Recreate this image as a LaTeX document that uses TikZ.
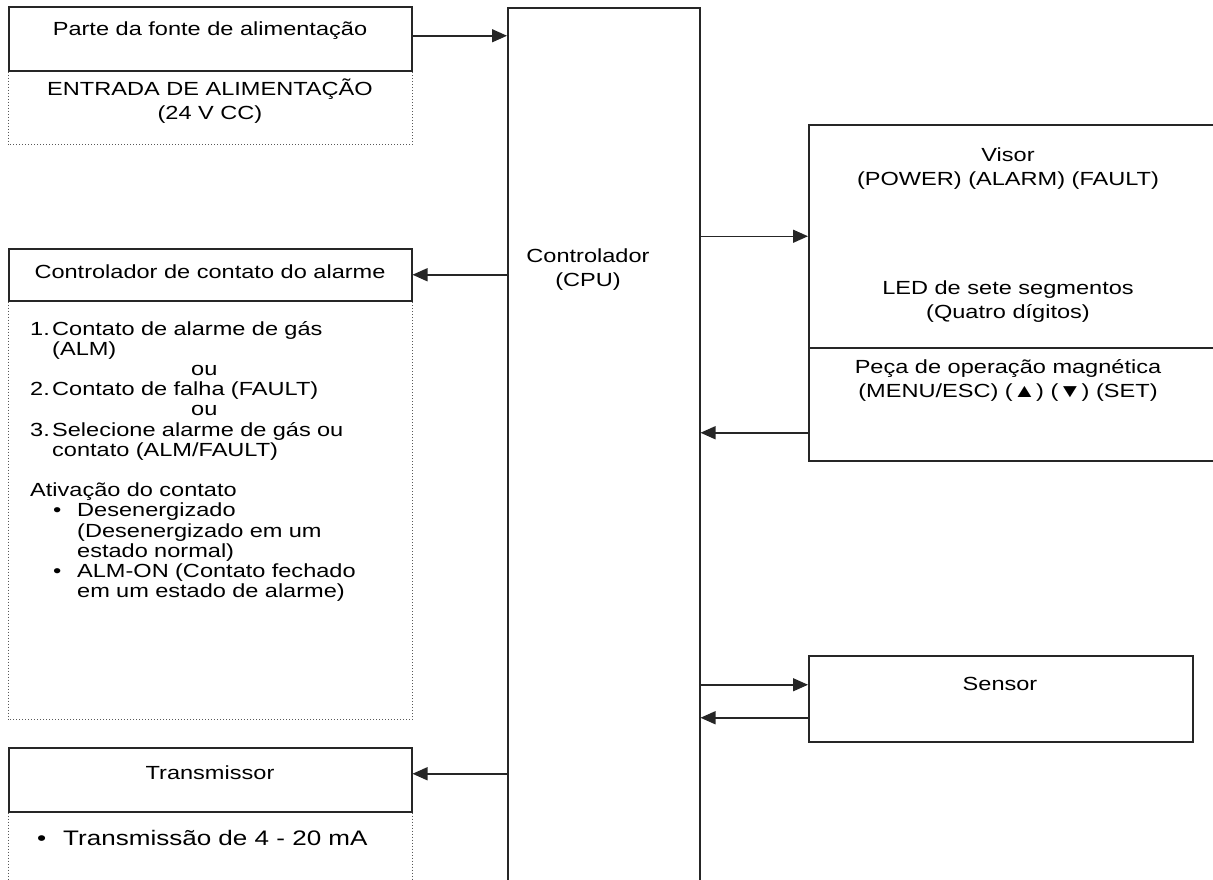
\documentclass[tikz,border=0pt]{standalone}
\usepackage{fontspec}
\setmainfont{Liberation Sans}[FakeStretch=1.24]
\usetikzlibrary{arrows.meta,positioning}

\newcommand{\numit}[1]{\makebox[22pt][l]{#1}}
\newcommand{\dotit}{\hspace*{23pt}\makebox[24pt][l]{•}}

\tikzset{
  blk/.style={draw=black!85, line width=1.5pt, inner sep=0pt, anchor=north west},
  dotline/.style={draw=black!65, line width=1pt, dotted},
  arr/.style={draw=black!85, line width=1.5pt, -{Triangle[length=15pt,width=13pt]}},
  lbl/.style={inner sep=0pt, align=center, font=\fontsize{19}{24}\selectfont},
  listtxt/.style={inner sep=0pt, anchor=base west, text width=378pt, align=left,
    font=\fontsize{19}{20.2}\selectfont},
}

\begin{document}
\begin{tikzpicture}[x=1pt,y=-1pt]
\useasboundingbox (0,0) rectangle (1213,879);

% lado esquerdo
\node[blk, minimum width=403, minimum height=64] (power) at (8,6) {};
\draw[dotline] (power.south west) -- ++(0,73) -| (power.south east);
\node[lbl] (powertxt) at (210,31) {Parte da fonte de alimentação};
\node[lbl] (powerin) at (210,101) {ENTRADA DE ALIMENTAÇÃO\\(24 V CC)};

\node[blk, minimum width=403, minimum height=52] (alarm) at (8,248) {};
\draw[dotline] (alarm.south west) -- ++(0,418) -| (alarm.south east);
\node[lbl] (alarmtxt) at (210,272) {Controlador de contato do alarme};
\node[listtxt] (alarmlist) at (30,335) {%
\numit{1.}Contato de alarme de gás\\
\hspace*{22pt}(ALM)\\
\hspace*{161pt}ou\\
\numit{2.}Contato de falha (FAULT)\\
\hspace*{161pt}ou\\
\numit{3.}Selecione alarme de gás ou\\
\hspace*{22pt}contato (ALM/FAULT)\\[20.2pt]
Ativação do contato\\
\dotit Desenergizado\\
\hspace*{47pt}(Desenergizado em um\\
\hspace*{47pt}estado normal)\\
\dotit ALM-ON (Contato fechado\\
\hspace*{47pt}em um estado de alarme)};

\node[blk, minimum width=403, minimum height=64] (trans) at (8,747) {};
\draw[dotline] (trans.south west) -- ++(0,80) (trans.south east) -- ++(0,80);
\node[lbl] (transtxt) at (210,773) {Transmissor};
\node[lbl, anchor=base west, font=\fontsize{21}{24}\selectfont] (translist) at (37,845)
  {\makebox[26pt][l]{•}Transmissão de 4 - 20 mA};

% controlador
\node[blk, minimum width=192, minimum height=890] (cpu) at (507,7) {};
\node[lbl] (cputxt) at (588,270) {Controlador\\(CPU)};

% lado direito
\node[blk, minimum width=420, minimum height=223] (visor) at (808,124) {};
\node[blk, minimum width=420, minimum height=113] (magop) at (808,347) {};
\node[lbl] (visortxt) at (1008,169) {Visor\\(POWER) (ALARM) (FAULT)};
\node[lbl] (ledtxt) at (1008,302) {LED de sete segmentos\\(Quatro dígitos)};
\node[lbl] (magoptxt) at (1008,380) {Peça de operação magnética\\(MENU/ESC) (▲) (▼) (SET)};
\node[blk, minimum width=384, minimum height=86] (sensor) at (808,655) {};
\node[lbl] (sensortxt) at (1000,684) {Sensor};

% ligacoes
\coordinate (pw) at ([yshift=3pt]power.east);
\draw[arr] (pw) -- (pw -| cpu.west);
\draw[arr] (alarm.east -| cpu.west) -- (alarm.east);
\coordinate (tr) at ([yshift=6pt]trans.east);
\draw[arr] (tr -| cpu.west) -- (tr);
\draw[arr] (visor.west -| cpu.east) -- (visor.west);
\coordinate (mg) at ([yshift=-28.5pt]magop.west);
\draw[arr] (mg) -- (mg -| cpu.east);
\coordinate (sa) at ([yshift=14pt]sensor.west);
\coordinate (sb) at ([yshift=-19pt]sensor.west);
\draw[arr] (sa -| cpu.east) -- (sa);
\draw[arr] (sb) -- (sb -| cpu.east);
\end{tikzpicture}
\end{document}
